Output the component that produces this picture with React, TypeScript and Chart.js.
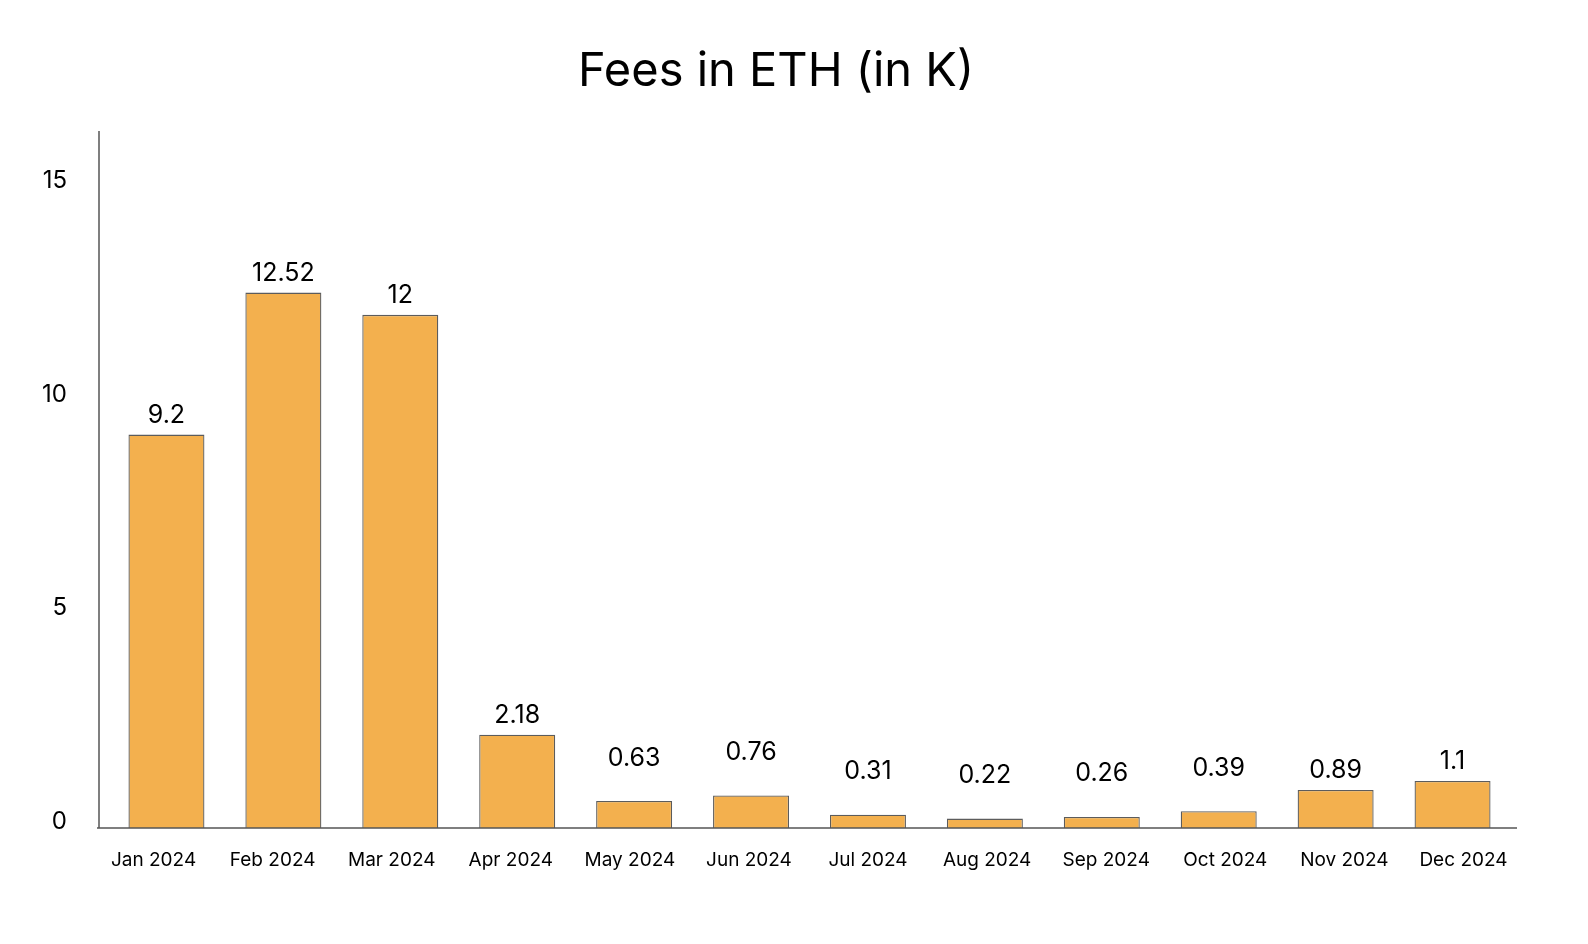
import React, { useEffect, useRef } from "react";
import { Chart, registerables } from "chart.js";

Chart.register(...registerables);

const TITLE = "Fees in ETH (in K)";
const MONTHS = ["Jan 2024", "Feb 2024", "Mar 2024", "Apr 2024", "May 2024", "Jun 2024", "Jul 2024", "Aug 2024", "Sep 2024", "Oct 2024", "Nov 2024", "Dec 2024"];
const FEES = [9.2, 12.52, 12, 2.18, 0.63, 0.76, 0.31, 0.22, 0.26, 0.39, 0.89, 1.1];
const Y_TICKS = [0, 5, 10, 15];

const FONT = "Inter, 'Noto Sans', sans-serif";
const BAR_COLOR = "#F3B04E";
const AXIS_COLOR = "#555555";

const decorPlugin = {
  id: "decor",
  afterDatasetsDraw(chart: any) {
    const { ctx, chartArea } = chart;
    const meta = chart.getDatasetMeta(0);
    const xScale = chart.scales.x;
    ctx.save();
    // axes lines
    const axL = chartArea.left - 11;
    const axR = chartArea.right + 6;
    ctx.strokeStyle = AXIS_COLOR;
    ctx.lineWidth = 1.5;
    ctx.beginPath();
    ctx.moveTo(chartArea.left - 9, chartArea.top - 1);
    ctx.lineTo(chartArea.left - 9, chartArea.bottom);
    ctx.moveTo(axL, chartArea.bottom);
    ctx.lineTo(axR, chartArea.bottom);
    ctx.stroke();
    // category labels, spread along the axis line span
    ctx.fillStyle = "#000";
    ctx.font = `19px ${FONT}`;
    ctx.textAlign = "center";
    ctx.textBaseline = "middle";
    const spanL = chartArea.left - 14;
    const spanR = chartArea.right + 12;
    const n = xScale.getLabels().length;
    const w = (spanR - spanL) / n;
    xScale.getLabels().forEach((lab: string, i: number) => {
      ctx.fillText(lab, spanL + w * (i + 0.5), chartArea.bottom + 32);
    });
    // value labels
    ctx.font = `25px ${FONT}`;
    meta.data.forEach((bar: any, i: number) => {
      const v = FEES[i];
      const off = v < 0.8 ? 43 : 19;
      ctx.fillText(String(v), bar.x, bar.y - off);
    });
    // title
    ctx.font = `47px ${FONT}`;
    ctx.fillText(TITLE, 776, 72);
    ctx.restore();
  },
};

export default function App() {
  const ref = useRef<HTMLCanvasElement | null>(null);
  useEffect(() => {
    document.body.style.margin = "0";
    const maxY = Math.max(...FEES) * 1.3;
    const chart = new Chart(ref.current as HTMLCanvasElement, {
      type: "bar",
      data: {
        labels: MONTHS,
        datasets: [
          {
            data: FEES,
            backgroundColor: BAR_COLOR,
            borderColor: "#5c5c5c",
            borderWidth: 1.3,
            barPercentage: 0.65,
            categoryPercentage: 1,
          },
        ],
      },
      options: {
        responsive: false,
        animation: false,
        layout: { padding: { top: 132, right: 77, bottom: 56, left: 0 } },
        plugins: { legend: { display: false }, title: { display: false }, tooltip: { enabled: false } },
        scales: {
          x: {
            grid: { display: false, drawTicks: false },
            border: { display: false },
            ticks: { display: false },
            afterFit: (s: any) => { s.height = 60; },
          },
          y: {
            min: 0,
            max: maxY,
            grid: { display: false, drawTicks: false },
            border: { display: false },
            afterBuildTicks: (s: any) => { s.ticks = Y_TICKS.map((v) => ({ value: v })); },
            ticks: { color: "#000", font: { family: FONT, size: 24 }, padding: 41, labelOffset: -6 },
            afterFit: (s: any) => { s.width = 108; },
          },
        },
      },
      plugins: [decorPlugin],
    });
    return () => chart.destroy();
  }, []);
  return (
    <div style={{ width: 1588, height: 944 }}>
      <canvas ref={ref} width={1588} height={944} style={{ display: "block" }} />
    </div>
  );
}
